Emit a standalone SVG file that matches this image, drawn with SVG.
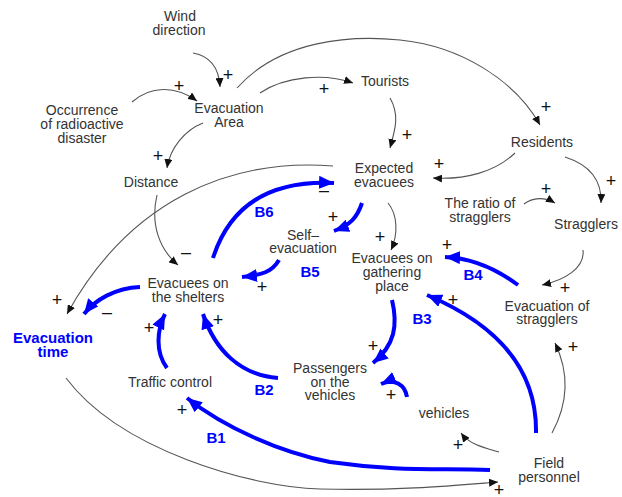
<svg xmlns="http://www.w3.org/2000/svg" width="622" height="497" viewBox="0 0 622 497">
<defs>
<marker id="ah" markerUnits="userSpaceOnUse" markerWidth="9" markerHeight="8" refX="9" refY="4" orient="auto"><path d="M0,0 L9,4 L0,8 z" fill="#111"/></marker>
<marker id="bh" markerUnits="userSpaceOnUse" markerWidth="15" markerHeight="13" refX="15" refY="6.5" orient="auto"><path d="M0,0 L15,6.5 L0,13 z" fill="#0000ff"/></marker>
</defs>
<style>
.t{font-family:"Liberation Sans",Arial,sans-serif;font-size:14px;fill:#333;text-anchor:middle}
.bt{font-family:"Liberation Sans",Arial,sans-serif;font-size:15px;font-weight:bold;fill:#0000ff;text-anchor:middle}
.lp{font-family:"Liberation Sans",Arial,sans-serif;font-size:15px;font-weight:bold;fill:#0000ff;text-anchor:middle}
.s{font-family:"Liberation Sans",Arial,sans-serif;font-size:18px;fill:#111;text-anchor:middle}
.c{fill:none;stroke:#555;stroke-width:1.1;marker-end:url(#ah)}
.b{fill:none;stroke:#0000ff;stroke-width:4;marker-end:url(#bh)}
</style>
<rect width="622" height="497" fill="#fff"/>
<g id="connectors">
<path class="c" d="M193,53 C210,56 219,68 220,87"/>
<path class="c" d="M132,102 C150,86 175,85 197,101"/>
<path class="c" d="M203,123 C185,130 170,148 167,168"/>
<path class="c" d="M260,93 C285,76 325,73 353,83"/>
<path class="c" d="M237,88 C280,40 350,35 400,40 C460,46 515,80 540,125"/>
<path class="c" d="M390,98 C400,115 395,130 390,148"/>
<path class="c" d="M515,153 C495,172 465,180 433,178"/>
<path class="c" d="M565,157 C590,165 602,180 601,203"/>
<path class="c" d="M524,204 C533,197 545,197 555,203"/>
<path class="c" d="M583,250 C585,268 565,280 542,285"/>
<path class="c" d="M388,203 C398,215 398,235 391,250"/>
<path class="c" d="M157,195 C150,225 160,250 178,265"/>
<path class="c" d="M333,166 C230,158 130,200 67,314"/>
<path class="c" d="M66,378 C120,450 250,487 320,489 C400,491 460,485 498,482"/>
<path class="c" d="M499,452 C485,448 470,445 461,433"/>
<path class="c" d="M552,433 C570,400 568,370 555,343"/>
<path class="b" d="M213,258 C230,205 270,180 334,183"/>
<path class="b" d="M362,203 C357,218 350,225 334,231"/>
<path class="b" d="M279,260 C272,272 262,275 242,277"/>
<path class="b" d="M140,287 C115,288 95,300 84,314"/>
<path class="b" d="M167,368 C155,352 157,330 165,314"/>
<path class="b" d="M278,378 C240,375 215,350 203,314"/>
<path class="b" d="M490,470 C440,468 400,472 330,462 C280,452 225,428 187,398"/>
<path class="b" d="M536,433 C537,380 510,330 427,295"/>
<path class="b" d="M392,300 C398,325 395,345 373,363"/>
<path class="b" d="M518,285 C495,268 470,258 445,257"/>
<path class="b" d="M407,397 C405,385 395,378 381,384"/>
<g id="signs">
<text class="s" x="228" y="81">+</text>
<text class="s" x="179" y="92">+</text>
<text class="s" x="158" y="162">+</text>
<text class="s" x="324" y="95">+</text>
<text class="s" x="546" y="113">+</text>
<text class="s" x="407" y="141">+</text>
<text class="s" x="439" y="170">+</text>
<text class="s" x="611" y="187">+</text>
<text class="s" x="546" y="195">+</text>
<text class="s" x="565" y="294">+</text>
<text class="s" x="380" y="243">+</text>
<text class="s" x="186" y="258">–</text>
<text class="s" x="57" y="306">+</text>
<text class="s" x="499" y="496">+</text>
<text class="s" x="458" y="451">+</text>
<text class="s" x="573" y="353">+</text>
<text class="s" x="324" y="196">–</text>
<text class="s" x="333" y="223">+</text>
<text class="s" x="262" y="293">+</text>
<text class="s" x="107" y="318">–</text>
<text class="s" x="149" y="334">+</text>
<text class="s" x="218" y="326">+</text>
<text class="s" x="182" y="416">+</text>
<text class="s" x="453" y="306">+</text>
<text class="s" x="373" y="352">+</text>
<text class="s" x="447" y="251">+</text>
<text class="s" x="391" y="401">+</text>
</g>
<g id="loops">
<text class="lp" x="264" y="217">B6</text>
<text class="lp" x="310" y="277">B5</text>
<text class="lp" x="473" y="280">B4</text>
<text class="lp" x="422" y="324">B3</text>
<text class="lp" x="264" y="395">B2</text>
<text class="lp" x="216" y="443">B1</text>
</g>
</g>
<g id="wind"><text class="t" y="21"><tspan x="180">Wind</tspan><tspan x="179" dy="14">direction</tspan></text></g>
<g id="occurrence"><text class="t" y="115"><tspan x="82">Occurrence</tspan><tspan x="82" dy="14">of radioactive</tspan><tspan x="82" dy="14">disaster</tspan></text></g>
<g id="area"><text class="t" y="113"><tspan x="229">Evacuation</tspan><tspan x="229" dy="14">Area</tspan></text></g>
<g id="distance"><text class="t" x="151" y="187">Distance</text></g>
<g id="tourists"><text class="t" x="385" y="86">Tourists</text></g>
<g id="residents"><text class="t" x="542" y="147">Residents</text></g>
<g id="expected"><text class="t" y="173"><tspan x="384">Expected</tspan><tspan x="384" dy="14">evacuees</tspan></text></g>
<g id="ratio"><text class="t" y="208"><tspan x="480">The ratio of</tspan><tspan x="480" dy="14">stragglers</tspan></text></g>
<g id="stragglers"><text class="t" x="586" y="229">Stragglers</text></g>
<g id="self"><text class="t" y="240"><tspan x="303">Self–</tspan><tspan x="303" dy="13">evacuation</tspan></text></g>
<g id="gathering"><text class="t" y="263"><tspan x="392">Evacuees on</tspan><tspan x="392" dy="14">gathering</tspan><tspan x="392" dy="14">place</tspan></text></g>
<g id="evacstragglers"><text class="t" y="311"><tspan x="547">Evacuation of</tspan><tspan x="547" dy="13">stragglers</tspan></text></g>
<g id="shelters"><text class="t" y="288"><tspan x="188">Evacuees on</tspan><tspan x="188" dy="14">the shelters</tspan></text></g>
<g id="time"><text class="bt" y="343"><tspan x="53">Evacuation</tspan><tspan x="53" dy="14">time</tspan></text></g>
<g id="traffic"><text class="t" x="170" y="387">Traffic control</text></g>
<g id="passengers"><text class="t" y="373"><tspan x="330">Passengers</tspan><tspan x="330" dy="14">on the</tspan><tspan x="330" dy="13">vehicles</tspan></text></g>
<g id="vehicles"><text class="t" x="444" y="418">vehicles</text></g>
<g id="field"><text class="t" y="468"><tspan x="549">Field</tspan><tspan x="549" dy="14">personnel</tspan></text></g>
</svg>
